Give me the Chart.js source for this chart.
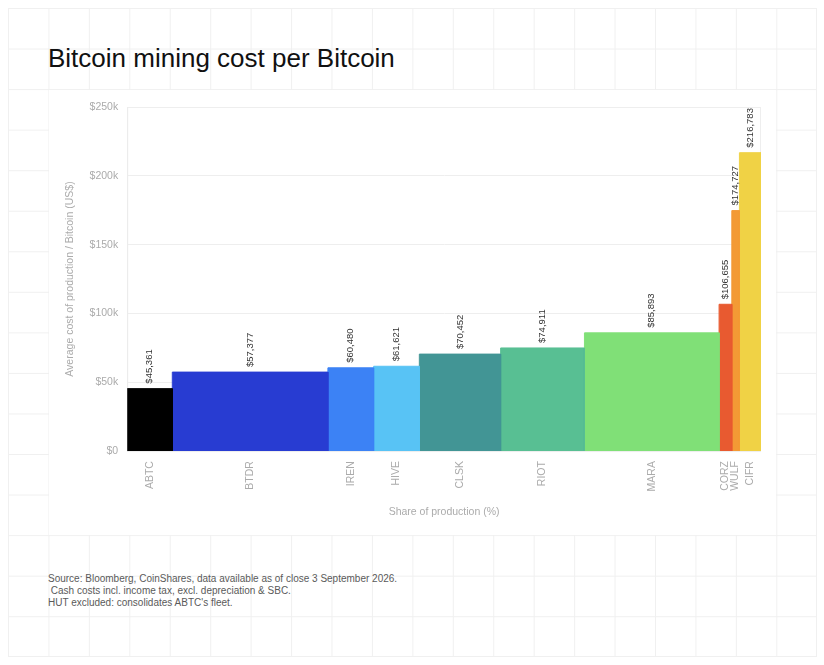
<!DOCTYPE html>
<html>
<head>
<meta charset="utf-8">
<script src="https://cdn.jsdelivr.net/npm/chart.js@4.4.1/dist/chart.umd.min.js"></script>
<style>
  html, body { margin: 0; padding: 0; background: #fff; }
  body { width: 824px; height: 665px; position: relative; overflow: hidden; font-family: "Liberation Sans", Arial, sans-serif; }
  .frame {
    position: absolute; left: 8px; top: 8px; width: 809px; height: 649px;
    box-sizing: border-box;
    border-right: 1px solid #f0f0f0; border-bottom: 1px solid #f0f0f0;
    background-image:
      linear-gradient(to right, #f0f0f0 1px, transparent 1px),
      linear-gradient(to bottom, #f0f0f0 1px, transparent 1px);
    background-size: 40.45px 40.56px;
  }
  .panel { position: absolute; left: 49px; top: 90px; width: 727px; height: 445px; background: #fff; }
  h1 {
    position: absolute; left: 48px; top: 45px; margin: 0;
    font-weight: normal; font-size: 26px; line-height: 26px; color: #111;
  }
  .note {
    position: absolute; left: 48px; top: 573px; margin: 0;
    font-size: 10px; line-height: 12px; color: #5a5a5a; white-space: pre;
  }
  .wrap { position: absolute; left: 48px; top: 89px; width: 728px; height: 446px; }
</style>
</head>
<body>
<div class="frame"></div>
<div class="panel"></div>
<h1>Bitcoin mining cost per Bitcoin</h1>
<div class="wrap"><canvas id="chart"></canvas></div>
<div class="note">Source: Bloomberg, CoinShares, data available as of close 3 September 2026.
 Cash costs incl. income tax, excl. depreciation &amp; SBC.
HUT excluded: consolidates ABTC's fleet.</div>
<script>
// miners, share of production (%) and cash cost per bitcoin (US$)
var miners = ["ABTC", "BTDR", "IREN", "HIVE", "CLSK", "RIOT", "MARA", "CORZ", "WULF", "CIFR"];
var shares = [7.1, 24.5, 7.2, 7.2, 12.8, 13.2, 21.2, 2.0, 1.2, 3.4];
var costs = [45361, 57377, 60480, 61621, 70452, 74911, 85893, 106655, 174727, 216783];
var colors = ["#000000", "#283cd2", "#3c82f5", "#58c3f5", "#429595", "#58bf93", "#80e077", "#e85a30", "#f39a35", "#f0d245"];

var tickFont = { family: "'Liberation Sans', Arial, sans-serif", size: 10.5 };
var grey = "#ababab";

// each miner is an outline (up, across, down) filled to zero, so widths follow the share
var start = 0;
var mids = [];
var datasets = miners.map(function (name, i) {
  var x0 = start;
  start += shares[i];
  mids.push((x0 + start) / 2);
  return {
    label: name,
    data: [{ x: x0, y: 0 }, { x: x0, y: costs[i] }, { x: start, y: costs[i] }, { x: start, y: 0 }],
    fill: "origin",
    backgroundColor: colors[i],
    borderColor: colors[i],
    borderWidth: 1,
    pointRadius: 0,
    pointHoverRadius: 0,
    tension: 0
  };
});
var total = start;

// light box around the plot area
var plotBox = {
  id: "plotBox",
  beforeDatasetsDraw: function (chart) {
    var a = chart.chartArea, ctx = chart.ctx;
    ctx.save();
    ctx.strokeStyle = "#eeeeee";
    ctx.lineWidth = 1;
    ctx.strokeRect(a.left + 0.5, a.top + 0.5, a.right - a.left - 1, a.bottom - a.top);
    ctx.restore();
  }
};

// cost value written upward above each bar
var valueLabels = {
  id: "valueLabels",
  afterDatasetsDraw: function (chart) {
    var ctx = chart.ctx, x = chart.scales.x, y = chart.scales.y;
    ctx.save();
    ctx.font = "9.5px 'Liberation Sans', Arial, sans-serif";
    ctx.fillStyle = "#333";
    ctx.textAlign = "left";
    ctx.textBaseline = "middle";
    costs.forEach(function (c, i) {
      var px = x.getPixelForValue(mids[i]);
      var py = y.getPixelForValue(c);
      ctx.save();
      ctx.translate(px, py - 5);
      ctx.rotate(-Math.PI / 2);
      ctx.fillText("$" + c.toLocaleString("en-US"), 0, 0);
      ctx.restore();
    });
    ctx.restore();
  }
};

new Chart(document.getElementById("chart"), {
  type: "line",
  data: { datasets: datasets },
  options: {
    responsive: true,
    maintainAspectRatio: false,
    animation: false,
    events: [],
    layout: { padding: { left: 16, right: 15, top: 18, bottom: 17 } },
    plugins: { legend: { display: false }, tooltip: { enabled: false } },
    scales: {
      x: {
        type: "linear",
        min: 0,
        max: total,
        afterBuildTicks: function (scale) {
          scale.ticks = mids.map(function (m) { return { value: m }; });
        },
        ticks: {
          autoSkip: false,
          minRotation: 90,
          maxRotation: 90,
          padding: 10,
          color: grey,
          font: tickFont,
          callback: function (v, i) { return miners[i]; }
        },
        grid: { display: false, drawTicks: false },
        border: { display: false },
        title: {
          display: true,
          text: "Share of production (%)",
          color: grey,
          font: { family: tickFont.family, size: 10.5 },
          padding: { top: 4, bottom: 0 }
        }
      },
      y: {
        min: 0,
        max: 250000,
        ticks: {
          stepSize: 50000,
          padding: 9,
          color: grey,
          font: tickFont,
          callback: function (v) { return v === 0 ? "$0" : "$" + v / 1000 + "k"; }
        },
        grid: { color: "#eeeeee", drawTicks: false },
        border: { color: "#e6e6e6" },
        title: {
          display: true,
          text: "Average cost of production / Bitcoin (US$)",
          color: grey,
          font: { family: tickFont.family, size: 10.5 },
          padding: { top: 0, bottom: 4 }
        }
      }
    }
  },
  plugins: [plotBox, valueLabels]
});
</script>
</body>
</html>
